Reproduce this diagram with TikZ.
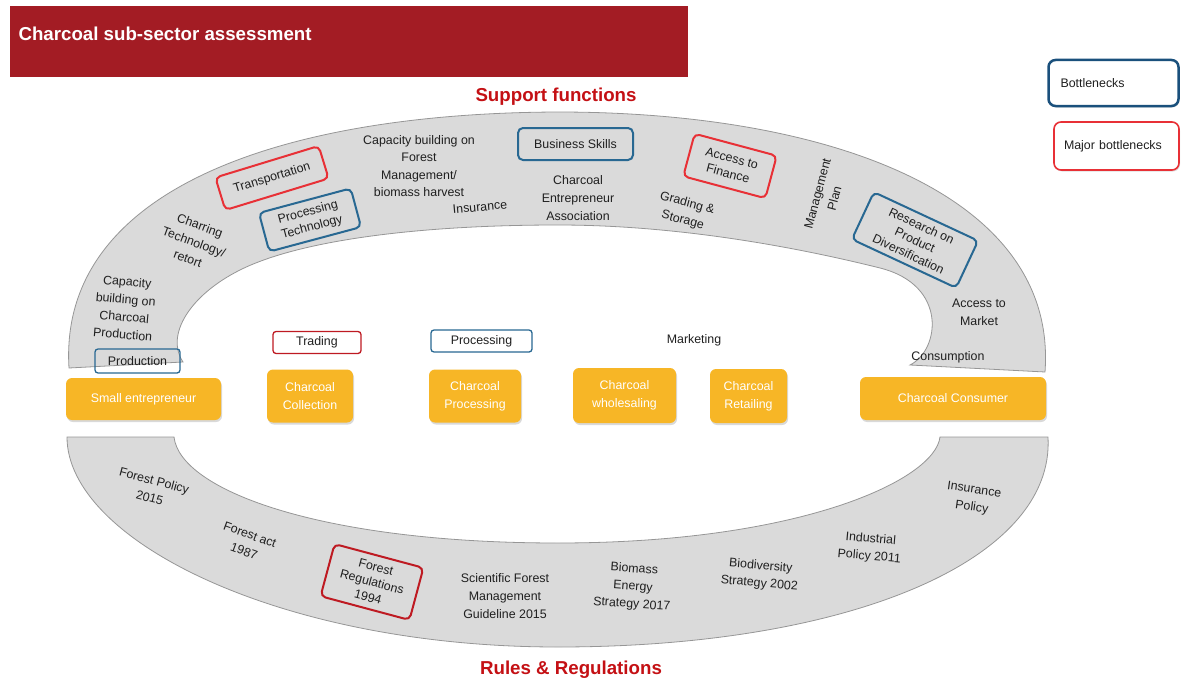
\documentclass[tikz,border=0pt]{standalone}
\usepackage{fontspec}
\setmainfont{Liberation Sans}
\usetikzlibrary{shadows}

\definecolor{titlered}{RGB}{163,28,36}
\definecolor{headred}{RGB}{196,16,20}
\definecolor{bandgray}{RGB}{218,218,218}
\definecolor{bandedge}{RGB}{150,150,150}
\definecolor{chainorange}{RGB}{247,182,38}
\definecolor{bneckblue}{RGB}{40,104,146}
\definecolor{bneckdark}{RGB}{26,80,124}
\definecolor{majorred}{RGB}{232,48,54}
\definecolor{darkred}{RGB}{190,26,34}

\tikzset{
  lbl/.style={font=\fontsize{12.4}{17.6}\selectfont, align=center, text=black!88, inner sep=1pt},
  boxlbl/.style={lbl, font=\fontsize{12.4}{15.5}\selectfont, rounded corners=5pt, inner sep=3pt},
  bneck/.style={boxlbl, draw=bneckblue, line width=2pt},
  majorbneck/.style={boxlbl, draw=majorred, line width=2pt},
  stage/.style={lbl, text=white, fill=chainorange, rounded corners=6pt,
    drop shadow={shadow xshift=1pt, shadow yshift=-2pt, opacity=0.3}},
  heading/.style={font=\bfseries\fontsize{18.7}{22}\selectfont, text=headred},
  band/.style={fill=bandgray, draw=bandedge, line width=0.8pt},
}

\begin{document}
\begin{tikzpicture}[x=1pt, y=-1pt]
\useasboundingbox (0,0) rectangle (1181,685);

\node[fill=titlered, anchor=north west, minimum width=678pt, minimum height=71pt, inner sep=0pt] (titlebar) at (10,6) {};
\node[anchor=west, text=white, font=\bfseries\fontsize{18.7}{22}\selectfont] (title) at (15,34) {Charcoal sub-sector assessment};

% support functions band
\draw[band] (69,368) .. controls (58,190) and (280,113) .. (558,112)
  .. controls (830,112) and (1058,195) .. (1045,372)
  -- (910,365)
  .. controls (940,350) and (948,285) .. (880,268)
  .. controls (800,248) and (680,225) .. (558,225)
  .. controls (420,225) and (300,240) .. (240,270)
  .. controls (190,295) and (165,335) .. (183,362) -- cycle;

% rules and regulations band
\draw[band] (67,437) .. controls (67,540) and (280,647) .. (558,647)
  .. controls (850,647) and (1055,560) .. (1048,437)
  -- (940,437)
  .. controls (935,480) and (800,543) .. (558,543)
  .. controls (320,543) and (180,490) .. (174,437) -- cycle;

\node[heading] (support) at (556,97) {Support functions};
\node[heading] (rules) at (571,670) {Rules \& Regulations};

\node[lbl, rotate=-5] (capcharcoal) at (125,308) {Capacity\\building on\\Charcoal\\Production};
\node[lbl, rotate=-20] (charring) at (194,242) {Charring\\Technology/\\retort};
\node[majorbneck, rotate=17, minimum width=108pt, minimum height=34pt] (transport) at (272,178) {Transportation};
\node[bneck, rotate=15, minimum width=95pt, minimum height=40pt] (proctech) at (310,220) {Processing\\Technology};
\node[lbl] (capforest) at (419,166) {Capacity building on\\Forest\\Management/\\biomass harvest};
\node[lbl, rotate=5] (insurance) at (480,207) {Insurance};
\node[bneck, minimum width=115pt, minimum height=32pt] (business) at (575.5,144) {Business Skills};
\node[lbl] (association) at (578,198) {Charcoal\\Entrepreneur\\Association};
\node[majorbneck, rotate=-15, minimum width=85pt, minimum height=44pt] (finance) at (730,166) {Access to\\Finance};
\node[lbl, rotate=-15] (grading) at (685,212) {Grading \&\\Storage};
\node[lbl, rotate=75] (mgmtplan) at (826,196) {Management\\Plan};
\node[bneck, rotate=-25, minimum width=115pt, minimum height=52pt] (research) at (915,240) {Research on\\Product\\Diversification};
\node[lbl] (market) at (979,312) {Access to\\Market};
\node[lbl] (consumption) at (948,357) {Consumption};

\node[bneck, line width=1.3pt, rounded corners=3pt, minimum width=85pt, minimum height=24pt] (production) at (137.5,361) {Production};
\node[majorbneck, draw=darkred, line width=1.3pt, rounded corners=3pt, fill=white, minimum width=88pt, minimum height=22pt] (trading) at (317,342.5) {Trading};
\node[bneck, line width=1.3pt, rounded corners=3pt, fill=white, minimum width=101pt, minimum height=22pt] (processingbox) at (481.5,341) {Processing};
\node[lbl] (marketing) at (694,340) {Marketing};

\node[stage, minimum width=155pt, minimum height=42pt] (smallent) at (143.5,399) {Small entrepreneur};
\node[stage, minimum width=86pt, minimum height=53pt] (collection) at (310,396) {Charcoal\\Collection};
\node[stage, minimum width=92pt, minimum height=53pt] (processing) at (475,396) {Charcoal\\Processing};
\node[stage, minimum width=103pt, minimum height=55pt] (wholesale) at (624.5,395.5) {Charcoal\\wholesaling};
\node[stage, minimum width=77pt, minimum height=54pt] (retail) at (748.5,396) {Charcoal\\Retailing};
\node[stage, minimum width=186pt, minimum height=43pt] (consumer) at (953,398.5) {Charcoal Consumer};

\node[lbl, rotate=-15] (fpolicy) at (152,489) {Forest Policy\\2015};
\node[lbl, rotate=-20] (fact) at (247,543) {Forest act\\1987};
\node[majorbneck, draw=darkred, rotate=-15, minimum width=92pt, minimum height=54pt] (fregs) at (372,582) {Forest\\Regulations\\1994};
\node[lbl] (sfmg) at (505,596) {Scientific Forest\\Management\\Guideline 2015};
\node[lbl, rotate=-4] (biomass) at (633,587) {Biomass\\Energy\\Strategy 2017};
\node[lbl, rotate=-5] (biodiv) at (760,575) {Biodiversity\\Strategy 2002};
\node[lbl, rotate=-5] (industrial) at (870,548) {Industrial\\Policy 2011};
\node[lbl, rotate=-8] (inspolicy) at (973,499) {Insurance\\Policy};

% legend
\node[lbl, draw=bneckdark, fill=white, line width=2.5pt, rounded corners=7pt, inner xsep=12pt, text width=106pt, align=left, minimum height=46pt,
  drop shadow={shadow xshift=1pt, shadow yshift=-1.5pt, opacity=0.25}] (legbneck) at (1113.5,83) {Bottlenecks};
\node[lbl, draw=majorred, fill=white, line width=1.6pt, rounded corners=7pt, inner xsep=10pt, text width=105pt, align=left, minimum height=48pt,
  drop shadow={shadow xshift=1pt, shadow yshift=-1.5pt, opacity=0.25}] (legmajor) at (1116.5,146) {Major bottlenecks};

\end{tikzpicture}
\end{document}
